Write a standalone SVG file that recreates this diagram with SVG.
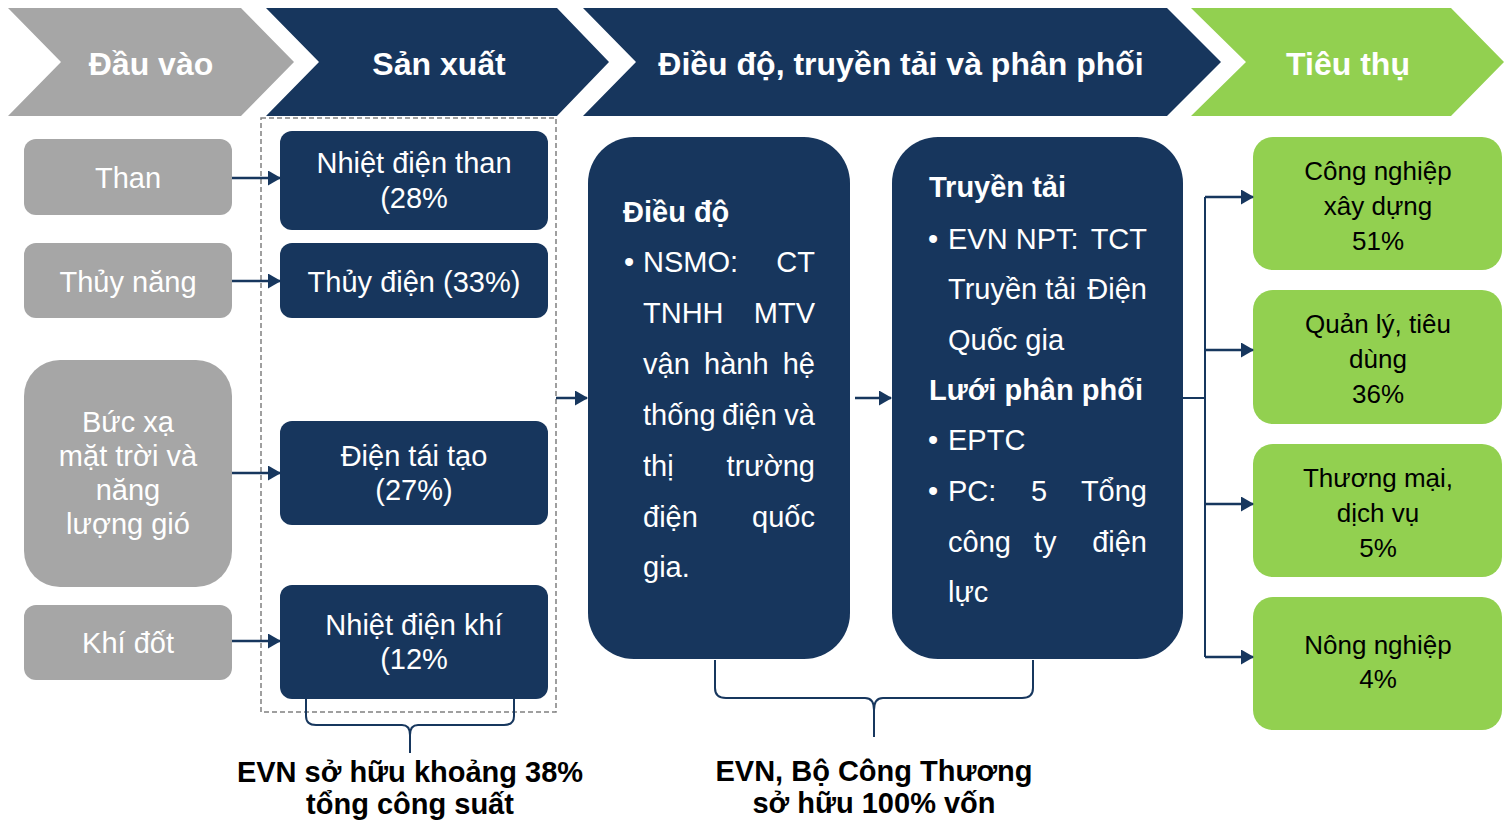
<svg xmlns="http://www.w3.org/2000/svg" width="1507" height="821" viewBox="0 0 1507 821">
<defs>
<marker id="arr" markerUnits="userSpaceOnUse" markerWidth="13" markerHeight="16" refX="12" refY="7.5" orient="auto">
<path d="M0,0 L13,7.5 L0,15 z" fill="#17375E"/>
</marker>
<style>
.hd{font-family:"Liberation Sans",Arial,sans-serif;font-weight:bold;font-size:32px;fill:#fff;text-anchor:middle}
.gt{font-family:"Liberation Sans",Arial,sans-serif;font-size:29px;fill:#fff;text-anchor:middle}
.wt{font-family:"Liberation Sans",Arial,sans-serif;font-size:29px;fill:#fff}
.wb{font-family:"Liberation Sans",Arial,sans-serif;font-size:29px;fill:#fff;font-weight:bold}
.end{text-anchor:end}
.grn{font-family:"Liberation Sans",Arial,sans-serif;font-size:26px;fill:#000;text-anchor:middle}
.cap{font-family:"Liberation Sans",Arial,sans-serif;font-size:29px;font-weight:bold;fill:#000;text-anchor:middle}
.gray{fill:#A6A6A6}
.navy{fill:#17365D}
.green{fill:#92D050}
.ln{stroke:#17375E;stroke-width:2.5;fill:none}
.br{stroke:#17375E;stroke-width:2;fill:none}
</style>
</defs>
<rect width="1507" height="821" fill="#fff"/>

<g id="chevron-dau-vao">
<polygon class="gray" points="8,8 241,8 294,62 241,116 8,116 61,62"/>
<text class="hd" x="151" y="75">Đầu vào</text>
</g>
<g id="chevron-san-xuat">
<polygon class="navy" points="266,8 557,8 609,62 557,116 266,116 319,62"/>
<text class="hd" x="439" y="75">Sản xuất</text>
</g>
<g id="chevron-dieu-do">
<polygon class="navy" points="583,8 1167,8 1221,62 1167,116 583,116 636,62"/>
<text class="hd" x="901" y="75">Điều độ, truyền tải và phân phối</text>
</g>
<g id="chevron-tieu-thu">
<polygon class="green" points="1191,8 1451,8 1504,62 1451,116 1191,116 1246,62"/>
<text class="hd" x="1348" y="75">Tiêu thụ</text>
</g>

<g id="in-than">
<rect class="gray" x="24" y="139" width="208" height="76" rx="12"/>
<text class="gt" x="128" y="188">Than</text>
</g>
<g id="in-thuy-nang">
<rect class="gray" x="24" y="243" width="208" height="75" rx="12"/>
<text class="gt" x="128" y="292">Thủy năng</text>
</g>
<g id="in-buc-xa">
<rect class="gray" x="24" y="360" width="208" height="227" rx="36"/>
<text class="gt" x="128" y="432">Bức xạ</text>
<text class="gt" x="128" y="466">mặt trời và</text>
<text class="gt" x="128" y="500">năng</text>
<text class="gt" x="128" y="534">lượng gió</text>
</g>
<g id="in-khi-dot">
<rect class="gray" x="24" y="605" width="208" height="75" rx="12"/>
<text class="gt" x="128" y="653">Khí đốt</text>
</g>

<rect id="production-group" x="261" y="118" width="295" height="594" fill="none" stroke="#808080" stroke-width="1.5" stroke-dasharray="5,3"/>

<g id="p-nhiet-than">
<rect class="navy" x="280" y="131" width="268" height="99" rx="12"/>
<text class="gt" x="414" y="173">Nhiệt điện than</text>
<text class="gt" x="414" y="208">(28%</text>
</g>
<g id="p-thuy-dien">
<rect class="navy" x="280" y="243" width="268" height="75" rx="12"/>
<text class="gt" x="414" y="292">Thủy điện (33%)</text>
</g>
<g id="p-tai-tao">
<rect class="navy" x="280" y="421" width="268" height="104" rx="12"/>
<text class="gt" x="414" y="466">Điện tái tạo</text>
<text class="gt" x="414" y="500">(27%)</text>
</g>
<g id="p-nhiet-khi">
<rect class="navy" x="280" y="585" width="268" height="114" rx="12"/>
<text class="gt" x="414" y="635">Nhiệt điện khí</text>
<text class="gt" x="414" y="669">(12%</text>
</g>

<g id="dieu-do">
<rect class="navy" x="588" y="137" width="262" height="522" rx="46"/>
<text class="wb" x="623" y="222">Điều độ</text>
<text class="wt" x="624" y="272">•</text>
<text class="wt" x="643" y="272">NSMO:</text>
<text class="wt end" x="815" y="272">CT</text>
<text class="wt" x="643" y="323">TNHH</text>
<text class="wt end" x="815" y="323">MTV</text>
<text class="wt" x="643" y="374">vận</text>
<text class="wt" x="704" y="374">hành</text>
<text class="wt end" x="815" y="374">hệ</text>
<text class="wt" x="643" y="425">thống</text>
<text class="wt" x="722" y="425">điện</text>
<text class="wt end" x="815" y="425">và</text>
<text class="wt" x="643" y="476">thị</text>
<text class="wt end" x="815" y="476">trường</text>
<text class="wt" x="643" y="527">điện</text>
<text class="wt end" x="815" y="527">quốc</text>
<text class="wt" x="643" y="577">gia.</text>
</g>

<g id="truyen-tai">
<rect class="navy" x="892" y="137" width="291" height="522" rx="46"/>
<text class="wb" x="929" y="197">Truyền tải</text>
<text class="wt" x="928" y="249">•</text>
<text class="wt" x="948" y="249">EVN NPT:</text>
<text class="wt end" x="1147" y="249">TCT</text>
<text class="wt" x="948" y="299">Truyền tải</text>
<text class="wt end" x="1147" y="299">Điện</text>
<text class="wt" x="948" y="350">Quốc gia</text>
<text class="wb" x="929" y="400">Lưới phân phối</text>
<text class="wt" x="928" y="450">•</text>
<text class="wt" x="948" y="450">EPTC</text>
<text class="wt" x="928" y="501">•</text>
<text class="wt" x="948" y="501">PC:</text>
<text class="wt" x="1031" y="501">5</text>
<text class="wt end" x="1147" y="501">Tổng</text>
<text class="wt" x="948" y="552">công</text>
<text class="wt" x="1034" y="552">ty</text>
<text class="wt end" x="1147" y="552">điện</text>
<text class="wt" x="948" y="602">lực</text>
</g>

<g id="c-cong-nghiep">
<rect class="green" x="1253" y="137" width="249" height="133" rx="20"/>
<text class="grn" x="1378" y="180">Công nghiệp</text>
<text class="grn" x="1378" y="215">xây dựng</text>
<text class="grn" x="1378" y="250">51%</text>
</g>
<g id="c-quan-ly">
<rect class="green" x="1253" y="290" width="249" height="134" rx="20"/>
<text class="grn" x="1378" y="333">Quản lý, tiêu</text>
<text class="grn" x="1378" y="368">dùng</text>
<text class="grn" x="1378" y="403">36%</text>
</g>
<g id="c-thuong-mai">
<rect class="green" x="1253" y="444" width="249" height="133" rx="20"/>
<text class="grn" x="1378" y="487">Thương mại,</text>
<text class="grn" x="1378" y="522">dịch vụ</text>
<text class="grn" x="1378" y="557">5%</text>
</g>
<g id="c-nong-nghiep">
<rect class="green" x="1253" y="597" width="249" height="133" rx="20"/>
<text class="grn" x="1378" y="654">Nông nghiệp</text>
<text class="grn" x="1378" y="688">4%</text>
</g>

<g id="connectors">
<line class="ln" x1="232" y1="178" x2="280" y2="178" marker-end="url(#arr)"/>
<line class="ln" x1="232" y1="281" x2="280" y2="281" marker-end="url(#arr)"/>
<line class="ln" x1="232" y1="473" x2="280" y2="473" marker-end="url(#arr)"/>
<line class="ln" x1="232" y1="641" x2="280" y2="641" marker-end="url(#arr)"/>
<line class="ln" x1="556" y1="398" x2="587" y2="398" marker-end="url(#arr)"/>
<line class="ln" x1="855" y1="398" x2="891" y2="398" marker-end="url(#arr)"/>
<path class="br" d="M1183,398 H1205 M1205,197 V657"/>
<line class="ln" x1="1205" y1="197" x2="1253" y2="197" marker-end="url(#arr)"/>
<line class="ln" x1="1205" y1="350" x2="1253" y2="350" marker-end="url(#arr)"/>
<line class="ln" x1="1205" y1="504" x2="1253" y2="504" marker-end="url(#arr)"/>
<line class="ln" x1="1205" y1="657" x2="1253" y2="657" marker-end="url(#arr)"/>
<path class="br" d="M306,699 V716 Q306,725 316,725 H402 Q410,725 410,735 V753 M514,699 V716 Q514,725 504,725 H418 Q410,725 410,735"/>
<path class="br" d="M715,660 V688 Q715,698 726,698 H865 Q874,698 874,710 V737 M1033,660 V688 Q1033,698 1022,698 H883 Q874,698 874,710"/>
</g>

<g id="captions">
<text class="cap" x="410" y="782">EVN sở hữu khoảng 38%</text>
<text class="cap" x="410" y="814">tổng công suất</text>
<text class="cap" x="874" y="781">EVN, Bộ Công Thương</text>
<text class="cap" x="874" y="813">sở hữu 100% vốn</text>
</g>
</svg>
